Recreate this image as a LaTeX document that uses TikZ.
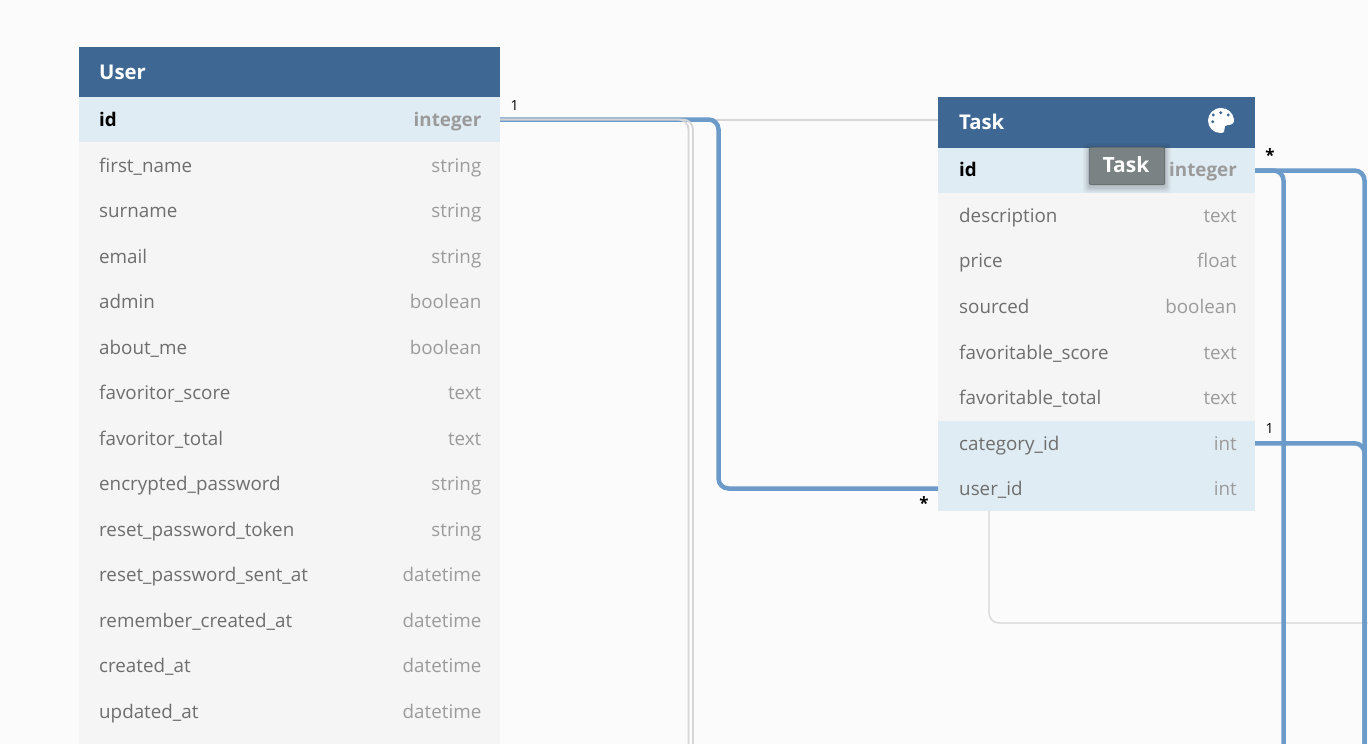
\documentclass[tikz,border=0pt]{standalone}
\usepackage{fontspec}
\setmainfont{Open Sans}
\definecolor{pagebg}{HTML}{FBFBFB}
\definecolor{headblue}{HTML}{3E6893}
\definecolor{rowgrey}{HTML}{F5F5F5}
\definecolor{rowkey}{HTML}{E0ECF3}
\definecolor{namecol}{HTML}{6E6E6E}
\definecolor{typecol}{HTML}{9B9B9B}
\definecolor{linkblue}{HTML}{6C9BC9}
\definecolor{linkgrey}{HTML}{D6D6D6}
\definecolor{tipfill}{HTML}{7A8284}
\definecolor{tipedge}{HTML}{5F6769}
\tikzset{
  x=1pt,y=-1pt,
  cell/.style={draw=none,inner sep=0pt,outer sep=0pt,minimum height=#1,anchor=north west},
  fname/.style={anchor=base west,inner sep=0pt,text=namecol,font=\fontsize{18.8}{22}\selectfont},
  ftype/.style={anchor=base east,inner sep=0pt,text=typecol,font=\fontsize{18.8}{22}\selectfont},
  keyname/.style={anchor=base west,inner sep=0pt,text=black,font=\fontsize{18.8}{22}\selectfont\bfseries},
  keytype/.style={anchor=base east,inner sep=0pt,text=typecol,font=\fontsize{18.8}{22}\selectfont\bfseries},
  title/.style={anchor=base west,inner sep=0pt,text=white,font=\fontsize{20.3}{24}\selectfont\bfseries},
  card/.style={anchor=base,inner sep=0pt,text=black,font=\fontsize{14}{16}\selectfont},
  starcard/.style={anchor=base,inner sep=0pt,text=black,font=\fontsize{17}{18}\selectfont\bfseries},
  bluelink/.style={draw=linkblue,line width=4.5pt,rounded corners=10pt},
  greylink/.style={draw=linkgrey,line width=1.8pt,rounded corners=10pt},
  thingrey/.style={draw=linkgrey,line width=1.2pt,rounded corners=10pt},
}
\begin{document}
\begin{tikzpicture}
\useasboundingbox (0,0) rectangle (1368,744);
\fill[pagebg] (0,0) rectangle (1368,744);

% connector end points
\coordinate (ubendA) at (688.5,300);
\coordinate (ubendB) at (693,300);
\coordinate (ubendC) at (718.5,300);
\coordinate (uendA) at (688.5,744);
\coordinate (uendB) at (693,744);
\coordinate (tendA) at (1283.5,744);
\coordinate (tendB) at (1364.5,744);
\coordinate (gcorner) at (989,623);
\coordinate (gend) at (1368,623);

% User table
\node[cell=50.5pt,minimum width=421pt,fill=headblue] (uhead) at (79,47) {};
\node[title] (utitle) at (99,79) {User};
\node[cell=45pt,minimum width=421pt,fill=rowkey] (u1) at (79,97) {};
\node[keyname] (u1n) at (99,126.2) {id};
\node[keytype] (u1t) at (481.5,126.2) {integer};
\foreach \i/\top/\base/\nm/\ty in {
 2/142/172/first\_name/string,
 3/188/217.5/surname/string,
 4/233.5/263/email/string,
 5/279/308/admin/boolean,
 6/324.5/354/about\_me/boolean,
 7/370/399/favoritor\_score/text,
 8/415.5/445/favoritor\_total/text,
 9/461/490/encrypted\_password/string,
 10/506.5/536/reset\_password\_token/string,
 11/552/581/reset\_password\_sent\_at/datetime,
 12/597.5/627/remember\_created\_at/datetime,
 13/643/672/created\_at/datetime,
 14/688.5/718/updated\_at/datetime}{
  \node[cell=46pt,minimum width=421pt,fill=rowgrey] (u\i) at (79,\top) {};
  \node[fname] (u\i n) at (99,\base) {\nm};
  \node[ftype] (u\i t) at (481.5,\base) {\ty};
}
\node[cell=10pt,minimum width=421pt,fill=rowgrey] (u15) at (79,734) {};

% Task table
\node[cell=51pt,minimum width=317pt,fill=headblue] (thead) at (938,97) {};
\node[title] (ttitle) at (959,129) {Task};
\node[cell=45pt,minimum width=317pt,fill=rowkey] (t1) at (938,148) {};
\node[keyname] (t1n) at (959,176.2) {id};
\node[keytype] (t1t) at (1237,176.2) {integer};
\foreach \i/\top/\base/\nm/\ty in {
 2/193/222/description/text,
 3/238.5/267/price/float,
 4/284/313/sourced/boolean,
 5/329.5/359/favoritable\_score/text,
 6/375/404/favoritable\_total/text}{
  \node[cell=46pt,minimum width=317pt,fill=rowgrey] (t\i) at (938,\top) {};
  \node[fname] (t\i n) at (959,\base) {\nm};
  \node[ftype] (t\i t) at (1237,\base) {\ty};
}
\node[cell=45.5pt,minimum width=317pt,fill=rowkey] (t7) at (938,420.5) {};
\node[fname] (t7n) at (959,450) {category\_id};
\node[ftype] (t7t) at (1237,450) {int};
\node[cell=45pt,minimum width=317pt,fill=rowkey] (t8) at (938,466) {};
\node[fname] (t8n) at (959,495) {user\_id};
\node[ftype] (t8t) at (1237,495) {int};

% connectors
\draw[thingrey] (t8.south -| gcorner) |- (gend);
\draw[draw=linkgrey,line width=2pt] (u1.east) -- (thead.west |- u1.east);
\draw[bluelink] (u1.east) -| (ubendC) |- (t8.west);
\draw[greylink] (u1.east) -| (ubendA) -- (uendA);
\draw[greylink] (u1.east) -| (ubendB) -- (uendB);
\draw[bluelink] (t1.east) -| (tendA);
\draw[bluelink] (t1.east) -| (tendB);
\draw[bluelink] (t7.east) -| (tendB);

% cardinality labels
\node[card] (c1) at (514.5,110.5) {1};
\node[starcard] (c2) at (924,509) {*};
\node[starcard] (c3) at (1270,161) {*};
\node[card] (c4) at (1269.5,433.5) {1};

% palette icon
\fill[white] (1234,119.5)
  .. controls (1233,112.5) and (1227.5,108) .. (1221,108)
  .. controls (1213.5,108) and (1208,114) .. (1208,120.5)
  .. controls (1208,127.5) and (1213.5,133) .. (1220.5,133)
  .. controls (1224,133) and (1225,131) .. (1224.5,129)
  .. controls (1224,126.5) and (1225,125) .. (1228,125)
  .. controls (1232,125) and (1234.5,123) .. (1234,119.5) -- cycle;
\foreach \dx/\dy in {1220.7/112.7,1213.3/115,1228.3/115,1212.7/121.7}
  \fill[headblue] (\dx,\dy) circle (1.6);

% tooltip
\foreach \g/\o in {6/.03,4.5/.04,3/.05,1.5/.06}
  \fill[black,opacity=\o,rounded corners=3pt] (1089-\g,147+2-\g) rectangle (1165+\g,185+2+\g);
\node[cell=37.5pt,minimum width=75.5pt,fill=tipfill,draw=tipedge,line width=.7pt,rounded corners=2pt] (tip) at (1089.3,147.3) {};
\node[anchor=base,inner sep=0pt,text=white,font=\fontsize{21}{24}\selectfont\bfseries] (tiptext) at (1126,172) {Task};
\end{tikzpicture}
\end{document}
